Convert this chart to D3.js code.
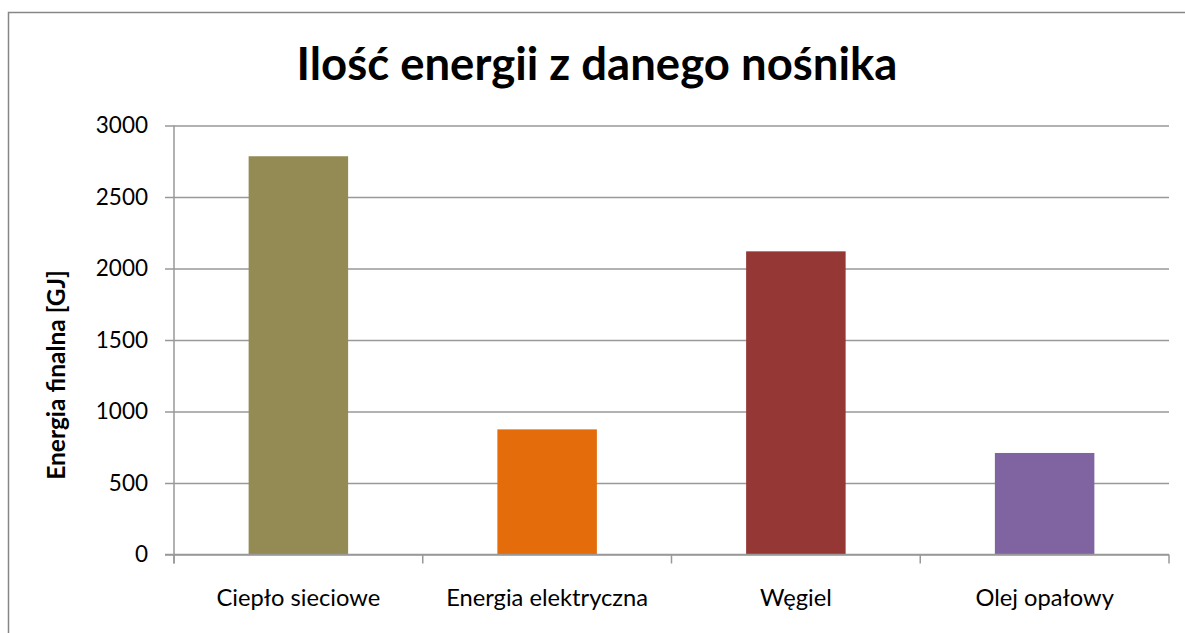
<!DOCTYPE html>
<html>
<head>
<meta charset="utf-8">
<script src="https://cdn.jsdelivr.net/npm/d3@7"></script>
<style>
  html, body { margin: 0; padding: 0; background: #fff; }
  svg { display: block; }
  text { font-family: Lato, "Open Sans", sans-serif; fill: #000; }
</style>
</head>
<body>
<svg id="chart" width="1185" height="633"></svg>
<script>
const title = "Ilość energii z danego nośnika";
const yAxisTitle = "Energia finalna [GJ]";
const categories = ["Ciepło sieciowe", "Energia elektryczna", "Węgiel", "Olej opałowy"];
const values = [2785, 875, 2120, 710];
const colors = ["#948A54", "#E46C0A", "#953735", "#8064A2"];
const yTicks = [0, 500, 1000, 1500, 2000, 2500, 3000];

const svg = d3.select("#chart");
const W = 1185, H = 633;
const plot = { left: 174, right: 1169, top: 125.5, bottom: 554.5 };

// outer chart border
svg.append("rect")
  .attr("x", 8.5).attr("y", 12.5)
  .attr("width", W + 10).attr("height", H + 10)
  .attr("fill", "none").attr("stroke", "#878787").attr("stroke-width", 1.5);

const x = d3.scaleBand().domain(categories).range([plot.left, plot.right]).paddingInner(0).paddingOuter(0);
const y = d3.scaleLinear().domain([0, 3000]).range([plot.bottom, plot.top]);

// gridlines + y axis
const yAxis = d3.axisLeft(y).tickValues(yTicks).tickSize(plot.right - plot.left + 9).tickPadding(17).tickFormat(d3.format("d"));
const gy = svg.append("g").attr("transform", `translate(${plot.right},0)`).call(yAxis);
gy.select(".domain").remove();
gy.selectAll(".tick line").attr("stroke", "#999").attr("stroke-width", 1.5);
gy.selectAll(".tick text")
  .attr("x", -(plot.right - plot.left) - 26)
  .style("font-size", "22.5px").attr("fill", "#000");

// y axis line
svg.append("line")
  .attr("x1", plot.left).attr("x2", plot.left)
  .attr("y1", plot.top).attr("y2", plot.bottom + 9)
  .attr("stroke", "#999").attr("stroke-width", 1.5);

// bars
const barW = x.bandwidth() * 0.4;
svg.append("g").selectAll("rect").data(categories).join("rect")
  .attr("x", (d) => x(d) + (x.bandwidth() - barW) / 2)
  .attr("width", barW)
  .attr("y", (d, i) => y(values[i]))
  .attr("height", (d, i) => y(0) - y(values[i]))
  .attr("fill", (d, i) => colors[i]);

// x axis
const xAxis = d3.axisBottom(x).tickSize(0).tickPadding(35);
const gx = svg.append("g").attr("transform", `translate(0,${plot.bottom})`).call(xAxis);
gx.select(".domain").remove();
gx.selectAll(".tick text").style("font-size", "23.7px").attr("fill", "#000");
// boundary tick marks
const bounds = categories.map(c => x(c)).concat([plot.right]);
svg.append("g").selectAll("line").data(bounds).join("line")
  .attr("x1", d => d).attr("x2", d => d)
  .attr("y1", plot.bottom).attr("y2", plot.bottom + 9)
  .attr("stroke", "#999").attr("stroke-width", 1.5);
// baseline
svg.append("line")
  .attr("x1", plot.left - 9).attr("x2", plot.right)
  .attr("y1", plot.bottom).attr("y2", plot.bottom)
  .attr("stroke", "#999").attr("stroke-width", 1.5);

// title
svg.append("text")
  .attr("x", 597).attr("y", 80)
  .attr("text-anchor", "middle")
  .style("font-size", "45.5px").style("font-weight", "bold")
  .text(title);

// y axis title
svg.append("text")
  .attr("transform", "translate(65,375) rotate(-90)")
  .attr("text-anchor", "middle")
  .style("font-size", "24.5px").style("font-weight", "bold")
  .text(yAxisTitle);
</script>
</body>
</html>
